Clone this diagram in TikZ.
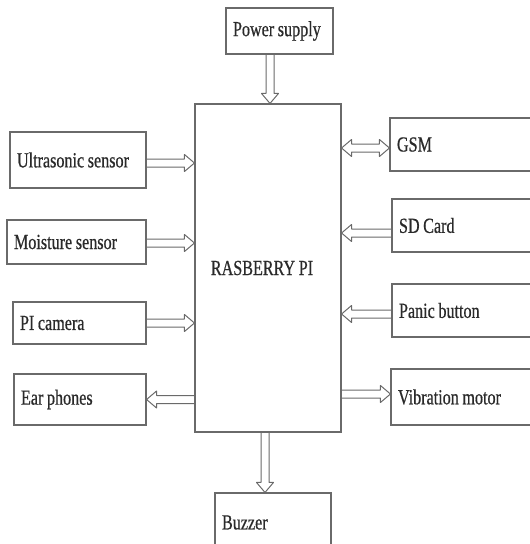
\documentclass[tikz,border=0pt]{standalone}
\usepackage{fontspec}
\setmainfont{Liberation Serif}[FakeStretch=0.75, WordSpace=0.9, FakeBold=0.6]
\usetikzlibrary{calc}
\definecolor{linecol}{HTML}{6A6A6A}
\definecolor{txtcol}{HTML}{2A2A2A}
\newcommand\blockarrow[2]{%
  \path (#1) coordinate (bas) (#2) coordinate (bae);
  \coordinate (bah) at ($(bae)!10pt!(bas)$);
  \draw[arr] ($(bas)!4pt!90:(bae)$) -- ($(bah)!4pt!90:(bae)$) -- ($(bah)!8.5pt!90:(bae)$)
    -- (bae) -- ($(bah)!8.5pt!-90:(bae)$) -- ($(bah)!4pt!-90:(bae)$) -- ($(bas)!4pt!-90:(bae)$);}
\newcommand\blockarrowboth[2]{%
  \path (#1) coordinate (bas) (#2) coordinate (bae);
  \coordinate (bah) at ($(bae)!10pt!(bas)$);
  \coordinate (bag) at ($(bas)!10pt!(bae)$);
  \draw[arr] (bas) -- ($(bag)!8.5pt!90:(bae)$) -- ($(bag)!4pt!90:(bae)$) -- ($(bah)!4pt!90:(bae)$)
    -- ($(bah)!8.5pt!90:(bae)$) -- (bae) -- ($(bah)!8.5pt!-90:(bae)$) -- ($(bah)!4pt!-90:(bae)$)
    -- ($(bag)!4pt!-90:(bae)$) -- ($(bag)!8.5pt!-90:(bae)$) -- cycle;}
\begin{document}
\begin{tikzpicture}[x=1pt,y=-1pt,
  box/.style={draw=linecol, line width=1.1pt, rectangle, inner sep=0pt, text=txtcol,
              font=\fontsize{21.5}{24}\selectfont, align=flush left},
  arr/.style={draw=linecol, line width=1pt, line join=round}]
\useasboundingbox (0,0) rectangle (530,544);
\clip (0,0) rectangle (530,544);

\node[box, minimum width=107pt, minimum height=46pt, text width=93pt] (ps) at (279.5,31) {Power supply};
\node[box, minimum width=146pt, minimum height=328pt, align=center] (pi) at (268,268) {\hspace*{-12pt}RASBERRY PI};

\node[box, minimum width=136pt, minimum height=56pt, text width=122pt] (us) at (78,160) {Ultrasonic sensor};
\node[box, minimum width=139pt, minimum height=44pt, text width=125pt] (ms) at (76.5,242) {Moisture sensor};
\node[box, minimum width=133pt, minimum height=42pt, text width=119pt] (cam) at (79.5,323) {PI camera};
\node[box, minimum width=132pt, minimum height=51pt, text width=118pt] (ear) at (80,399.5) {Ear phones};

\node[box, minimum width=142pt, minimum height=53pt, text width=128pt] (gsm) at (461,144.5) {GSM};
\node[box, minimum width=140pt, minimum height=53pt, text width=126pt] (sd) at (462,225.5) {SD Card};
\node[box, minimum width=140pt, minimum height=53pt, text width=126pt] (pb) at (462,310.5) {Panic button};
\node[box, minimum width=141pt, minimum height=56pt, text width=127pt] (vm) at (461.5,397) {Vibration motor};

\node[box, minimum width=116pt, minimum height=59pt, text width=102pt] (bz) at (273,522.5) {Buzzer};

\blockarrow{[xshift=-9.5pt]ps.south}{[xshift=-9.5pt]ps.south |- pi.north}
\blockarrow{[yshift=-3pt]us.east}{[yshift=-3pt]us.east -| pi.west}
\blockarrow{[yshift=-1pt]ms.east}{[yshift=-1pt]ms.east -| pi.west}
\blockarrow{cam.east}{cam.east -| pi.west}
\blockarrow{ear.east -| pi.west}{ear.east}
\blockarrowboth{[yshift=-3.5pt]gsm.west -| pi.east}{[yshift=-3.5pt]gsm.west}
\blockarrow{[yshift=-7.5pt]sd.west}{[yshift=-7.5pt]sd.west -| pi.east}
\blockarrow{[yshift=-3.5pt]pb.west}{[yshift=-3.5pt]pb.west -| pi.east}
\blockarrow{[yshift=3pt]vm.west -| pi.east}{[yshift=3pt]vm.west}
\blockarrow{[xshift=-8pt]bz.north |- pi.south}{[xshift=-8pt]bz.north}
\end{tikzpicture}
\end{document}
